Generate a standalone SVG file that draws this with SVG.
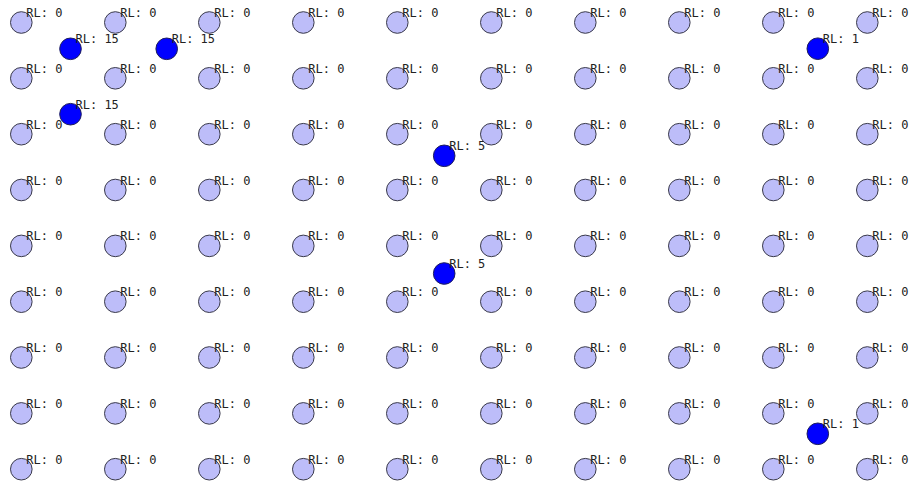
<svg xmlns="http://www.w3.org/2000/svg" width="911" height="483" viewBox="0 0 911 483">
<style>
.bg{fill:#ffffff}
.n circle{fill:#bdbdf9;stroke:#3a3a4a;stroke-width:1}
.d circle{fill:#0000ff;stroke:#20205a;stroke-width:1}
text{font-family:"DejaVu Sans Mono","Liberation Mono",monospace;font-size:12px;fill:#222}
</style>
<rect class="bg" width="911" height="483"/>
<g id="grid">
<g id="n0_0" class="n" transform="translate(21.3,22.5)"><circle r="10.8"/><text x="5" y="-5.5">RL: 0</text></g>
<g id="n1_0" class="n" transform="translate(115.3,22.5)"><circle r="10.8"/><text x="5" y="-5.5">RL: 0</text></g>
<g id="n2_0" class="n" transform="translate(209.3,22.5)"><circle r="10.8"/><text x="5" y="-5.5">RL: 0</text></g>
<g id="n3_0" class="n" transform="translate(303.3,22.5)"><circle r="10.8"/><text x="5" y="-5.5">RL: 0</text></g>
<g id="n4_0" class="n" transform="translate(397.3,22.5)"><circle r="10.8"/><text x="5" y="-5.5">RL: 0</text></g>
<g id="n5_0" class="n" transform="translate(491.3,22.5)"><circle r="10.8"/><text x="5" y="-5.5">RL: 0</text></g>
<g id="n6_0" class="n" transform="translate(585.3,22.5)"><circle r="10.8"/><text x="5" y="-5.5">RL: 0</text></g>
<g id="n7_0" class="n" transform="translate(679.3,22.5)"><circle r="10.8"/><text x="5" y="-5.5">RL: 0</text></g>
<g id="n8_0" class="n" transform="translate(773.3,22.5)"><circle r="10.8"/><text x="5" y="-5.5">RL: 0</text></g>
<g id="n9_0" class="n" transform="translate(867.3,22.5)"><circle r="10.8"/><text x="5" y="-5.5">RL: 0</text></g>

<g id="n0_1" class="n" transform="translate(21.3,78.3)"><circle r="10.8"/><text x="5" y="-5.5">RL: 0</text></g>
<g id="n1_1" class="n" transform="translate(115.3,78.3)"><circle r="10.8"/><text x="5" y="-5.5">RL: 0</text></g>
<g id="n2_1" class="n" transform="translate(209.3,78.3)"><circle r="10.8"/><text x="5" y="-5.5">RL: 0</text></g>
<g id="n3_1" class="n" transform="translate(303.3,78.3)"><circle r="10.8"/><text x="5" y="-5.5">RL: 0</text></g>
<g id="n4_1" class="n" transform="translate(397.3,78.3)"><circle r="10.8"/><text x="5" y="-5.5">RL: 0</text></g>
<g id="n5_1" class="n" transform="translate(491.3,78.3)"><circle r="10.8"/><text x="5" y="-5.5">RL: 0</text></g>
<g id="n6_1" class="n" transform="translate(585.3,78.3)"><circle r="10.8"/><text x="5" y="-5.5">RL: 0</text></g>
<g id="n7_1" class="n" transform="translate(679.3,78.3)"><circle r="10.8"/><text x="5" y="-5.5">RL: 0</text></g>
<g id="n8_1" class="n" transform="translate(773.3,78.3)"><circle r="10.8"/><text x="5" y="-5.5">RL: 0</text></g>
<g id="n9_1" class="n" transform="translate(867.3,78.3)"><circle r="10.8"/><text x="5" y="-5.5">RL: 0</text></g>

<g id="n0_2" class="n" transform="translate(21.3,134.2)"><circle r="10.8"/><text x="5" y="-5.5">RL: 0</text></g>
<g id="n1_2" class="n" transform="translate(115.3,134.2)"><circle r="10.8"/><text x="5" y="-5.5">RL: 0</text></g>
<g id="n2_2" class="n" transform="translate(209.3,134.2)"><circle r="10.8"/><text x="5" y="-5.5">RL: 0</text></g>
<g id="n3_2" class="n" transform="translate(303.3,134.2)"><circle r="10.8"/><text x="5" y="-5.5">RL: 0</text></g>
<g id="n4_2" class="n" transform="translate(397.3,134.2)"><circle r="10.8"/><text x="5" y="-5.5">RL: 0</text></g>
<g id="n5_2" class="n" transform="translate(491.3,134.2)"><circle r="10.8"/><text x="5" y="-5.5">RL: 0</text></g>
<g id="n6_2" class="n" transform="translate(585.3,134.2)"><circle r="10.8"/><text x="5" y="-5.5">RL: 0</text></g>
<g id="n7_2" class="n" transform="translate(679.3,134.2)"><circle r="10.8"/><text x="5" y="-5.5">RL: 0</text></g>
<g id="n8_2" class="n" transform="translate(773.3,134.2)"><circle r="10.8"/><text x="5" y="-5.5">RL: 0</text></g>
<g id="n9_2" class="n" transform="translate(867.3,134.2)"><circle r="10.8"/><text x="5" y="-5.5">RL: 0</text></g>

<g id="n0_3" class="n" transform="translate(21.3,190)"><circle r="10.8"/><text x="5" y="-5.5">RL: 0</text></g>
<g id="n1_3" class="n" transform="translate(115.3,190)"><circle r="10.8"/><text x="5" y="-5.5">RL: 0</text></g>
<g id="n2_3" class="n" transform="translate(209.3,190)"><circle r="10.8"/><text x="5" y="-5.5">RL: 0</text></g>
<g id="n3_3" class="n" transform="translate(303.3,190)"><circle r="10.8"/><text x="5" y="-5.5">RL: 0</text></g>
<g id="n4_3" class="n" transform="translate(397.3,190)"><circle r="10.8"/><text x="5" y="-5.5">RL: 0</text></g>
<g id="n5_3" class="n" transform="translate(491.3,190)"><circle r="10.8"/><text x="5" y="-5.5">RL: 0</text></g>
<g id="n6_3" class="n" transform="translate(585.3,190)"><circle r="10.8"/><text x="5" y="-5.5">RL: 0</text></g>
<g id="n7_3" class="n" transform="translate(679.3,190)"><circle r="10.8"/><text x="5" y="-5.5">RL: 0</text></g>
<g id="n8_3" class="n" transform="translate(773.3,190)"><circle r="10.8"/><text x="5" y="-5.5">RL: 0</text></g>
<g id="n9_3" class="n" transform="translate(867.3,190)"><circle r="10.8"/><text x="5" y="-5.5">RL: 0</text></g>

<g id="n0_4" class="n" transform="translate(21.3,245.9)"><circle r="10.8"/><text x="5" y="-5.5">RL: 0</text></g>
<g id="n1_4" class="n" transform="translate(115.3,245.9)"><circle r="10.8"/><text x="5" y="-5.5">RL: 0</text></g>
<g id="n2_4" class="n" transform="translate(209.3,245.9)"><circle r="10.8"/><text x="5" y="-5.5">RL: 0</text></g>
<g id="n3_4" class="n" transform="translate(303.3,245.9)"><circle r="10.8"/><text x="5" y="-5.5">RL: 0</text></g>
<g id="n4_4" class="n" transform="translate(397.3,245.9)"><circle r="10.8"/><text x="5" y="-5.5">RL: 0</text></g>
<g id="n5_4" class="n" transform="translate(491.3,245.9)"><circle r="10.8"/><text x="5" y="-5.5">RL: 0</text></g>
<g id="n6_4" class="n" transform="translate(585.3,245.9)"><circle r="10.8"/><text x="5" y="-5.5">RL: 0</text></g>
<g id="n7_4" class="n" transform="translate(679.3,245.9)"><circle r="10.8"/><text x="5" y="-5.5">RL: 0</text></g>
<g id="n8_4" class="n" transform="translate(773.3,245.9)"><circle r="10.8"/><text x="5" y="-5.5">RL: 0</text></g>
<g id="n9_4" class="n" transform="translate(867.3,245.9)"><circle r="10.8"/><text x="5" y="-5.5">RL: 0</text></g>

<g id="n0_5" class="n" transform="translate(21.3,301.7)"><circle r="10.8"/><text x="5" y="-5.5">RL: 0</text></g>
<g id="n1_5" class="n" transform="translate(115.3,301.7)"><circle r="10.8"/><text x="5" y="-5.5">RL: 0</text></g>
<g id="n2_5" class="n" transform="translate(209.3,301.7)"><circle r="10.8"/><text x="5" y="-5.5">RL: 0</text></g>
<g id="n3_5" class="n" transform="translate(303.3,301.7)"><circle r="10.8"/><text x="5" y="-5.5">RL: 0</text></g>
<g id="n4_5" class="n" transform="translate(397.3,301.7)"><circle r="10.8"/><text x="5" y="-5.5">RL: 0</text></g>
<g id="n5_5" class="n" transform="translate(491.3,301.7)"><circle r="10.8"/><text x="5" y="-5.5">RL: 0</text></g>
<g id="n6_5" class="n" transform="translate(585.3,301.7)"><circle r="10.8"/><text x="5" y="-5.5">RL: 0</text></g>
<g id="n7_5" class="n" transform="translate(679.3,301.7)"><circle r="10.8"/><text x="5" y="-5.5">RL: 0</text></g>
<g id="n8_5" class="n" transform="translate(773.3,301.7)"><circle r="10.8"/><text x="5" y="-5.5">RL: 0</text></g>
<g id="n9_5" class="n" transform="translate(867.3,301.7)"><circle r="10.8"/><text x="5" y="-5.5">RL: 0</text></g>

<g id="n0_6" class="n" transform="translate(21.3,357.5)"><circle r="10.8"/><text x="5" y="-5.5">RL: 0</text></g>
<g id="n1_6" class="n" transform="translate(115.3,357.5)"><circle r="10.8"/><text x="5" y="-5.5">RL: 0</text></g>
<g id="n2_6" class="n" transform="translate(209.3,357.5)"><circle r="10.8"/><text x="5" y="-5.5">RL: 0</text></g>
<g id="n3_6" class="n" transform="translate(303.3,357.5)"><circle r="10.8"/><text x="5" y="-5.5">RL: 0</text></g>
<g id="n4_6" class="n" transform="translate(397.3,357.5)"><circle r="10.8"/><text x="5" y="-5.5">RL: 0</text></g>
<g id="n5_6" class="n" transform="translate(491.3,357.5)"><circle r="10.8"/><text x="5" y="-5.5">RL: 0</text></g>
<g id="n6_6" class="n" transform="translate(585.3,357.5)"><circle r="10.8"/><text x="5" y="-5.5">RL: 0</text></g>
<g id="n7_6" class="n" transform="translate(679.3,357.5)"><circle r="10.8"/><text x="5" y="-5.5">RL: 0</text></g>
<g id="n8_6" class="n" transform="translate(773.3,357.5)"><circle r="10.8"/><text x="5" y="-5.5">RL: 0</text></g>
<g id="n9_6" class="n" transform="translate(867.3,357.5)"><circle r="10.8"/><text x="5" y="-5.5">RL: 0</text></g>

<g id="n0_7" class="n" transform="translate(21.3,413.4)"><circle r="10.8"/><text x="5" y="-5.5">RL: 0</text></g>
<g id="n1_7" class="n" transform="translate(115.3,413.4)"><circle r="10.8"/><text x="5" y="-5.5">RL: 0</text></g>
<g id="n2_7" class="n" transform="translate(209.3,413.4)"><circle r="10.8"/><text x="5" y="-5.5">RL: 0</text></g>
<g id="n3_7" class="n" transform="translate(303.3,413.4)"><circle r="10.8"/><text x="5" y="-5.5">RL: 0</text></g>
<g id="n4_7" class="n" transform="translate(397.3,413.4)"><circle r="10.8"/><text x="5" y="-5.5">RL: 0</text></g>
<g id="n5_7" class="n" transform="translate(491.3,413.4)"><circle r="10.8"/><text x="5" y="-5.5">RL: 0</text></g>
<g id="n6_7" class="n" transform="translate(585.3,413.4)"><circle r="10.8"/><text x="5" y="-5.5">RL: 0</text></g>
<g id="n7_7" class="n" transform="translate(679.3,413.4)"><circle r="10.8"/><text x="5" y="-5.5">RL: 0</text></g>
<g id="n8_7" class="n" transform="translate(773.3,413.4)"><circle r="10.8"/><text x="5" y="-5.5">RL: 0</text></g>
<g id="n9_7" class="n" transform="translate(867.3,413.4)"><circle r="10.8"/><text x="5" y="-5.5">RL: 0</text></g>

<g id="n0_8" class="n" transform="translate(21.3,469.2)"><circle r="10.8"/><text x="5" y="-5.5">RL: 0</text></g>
<g id="n1_8" class="n" transform="translate(115.3,469.2)"><circle r="10.8"/><text x="5" y="-5.5">RL: 0</text></g>
<g id="n2_8" class="n" transform="translate(209.3,469.2)"><circle r="10.8"/><text x="5" y="-5.5">RL: 0</text></g>
<g id="n3_8" class="n" transform="translate(303.3,469.2)"><circle r="10.8"/><text x="5" y="-5.5">RL: 0</text></g>
<g id="n4_8" class="n" transform="translate(397.3,469.2)"><circle r="10.8"/><text x="5" y="-5.5">RL: 0</text></g>
<g id="n5_8" class="n" transform="translate(491.3,469.2)"><circle r="10.8"/><text x="5" y="-5.5">RL: 0</text></g>
<g id="n6_8" class="n" transform="translate(585.3,469.2)"><circle r="10.8"/><text x="5" y="-5.5">RL: 0</text></g>
<g id="n7_8" class="n" transform="translate(679.3,469.2)"><circle r="10.8"/><text x="5" y="-5.5">RL: 0</text></g>
<g id="n8_8" class="n" transform="translate(773.3,469.2)"><circle r="10.8"/><text x="5" y="-5.5">RL: 0</text></g>
<g id="n9_8" class="n" transform="translate(867.3,469.2)"><circle r="10.8"/><text x="5" y="-5.5">RL: 0</text></g>
</g>
<g id="active">
<g id="a1" class="d" transform="translate(70.5,48.8)"><circle r="10.8"/><text x="5" y="-5.5">RL: 15</text></g>
<g id="a2" class="d" transform="translate(166.7,48.8)"><circle r="10.8"/><text x="5" y="-5.5">RL: 15</text></g>
<g id="a3" class="d" transform="translate(817.8,48.7)"><circle r="10.8"/><text x="5" y="-5.5">RL: 1</text></g>
<g id="a4" class="d" transform="translate(70.5,114.2)"><circle r="10.8"/><text x="5" y="-5.5">RL: 15</text></g>
<g id="a5" class="d" transform="translate(444.2,155.8)"><circle r="10.8"/><text x="5" y="-5.5">RL: 5</text></g>
<g id="a6" class="d" transform="translate(444.2,273.5)"><circle r="10.8"/><text x="5" y="-5.5">RL: 5</text></g>
<g id="a7" class="d" transform="translate(817.8,433.8)"><circle r="10.8"/><text x="5" y="-5.5">RL: 1</text></g>
</g>
<g id="connectors"/>
</svg>
